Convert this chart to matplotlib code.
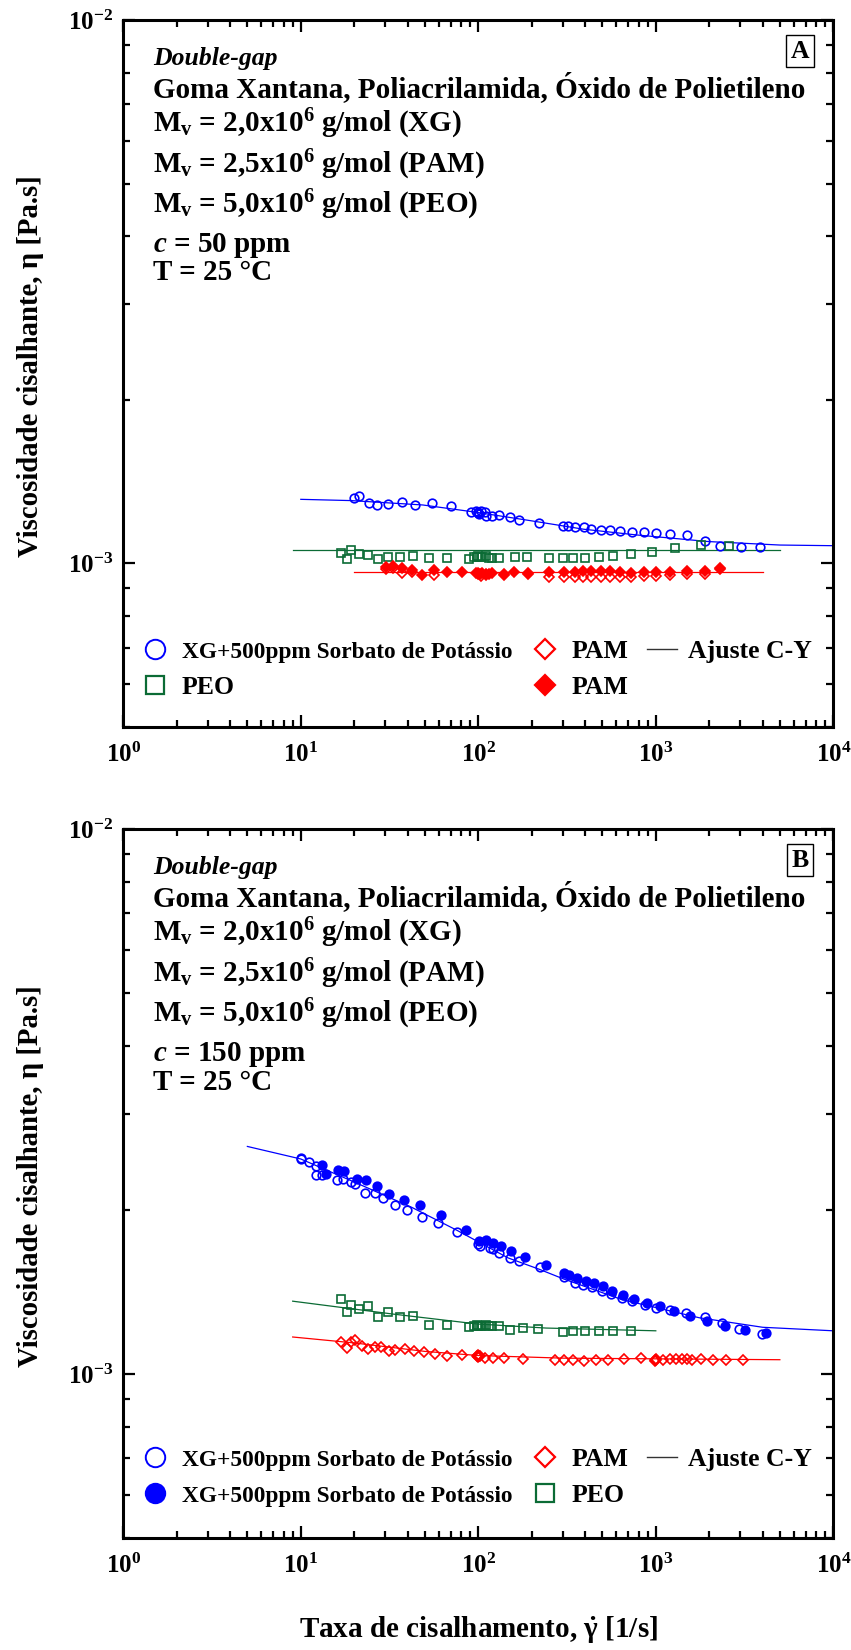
import math
import matplotlib
matplotlib.use('Agg')
import matplotlib.pyplot as plt
from matplotlib.ticker import LogLocator, FuncFormatter, NullFormatter
from matplotlib.lines import Line2D

plt.rcParams['font.family'] = ['Liberation Serif', 'DejaVu Serif']
plt.rcParams['font.weight'] = 'bold'
plt.rcParams['mathtext.fontset'] = 'custom'
plt.rcParams['mathtext.rm'] = 'Liberation Serif:bold'
plt.rcParams['mathtext.it'] = 'Liberation Serif:italic:bold'
plt.rcParams['mathtext.bf'] = 'Liberation Serif:bold'
plt.rcParams['mathtext.default'] = 'regular'

# ---- painel A (c = 50 ppm) ----
a_xg_x = [20.0, 21.2, 24.1, 26.9, 31.1, 37.3, 44.0, 55.2, 70.6, 91.0, 97, 99, 100, 101, 103,
          109.6, 111, 120, 130, 150, 170, 221, 301, 320, 351, 392, 434, 490, 550, 629, 733,
          855, 1000, 1203, 1503, 1893, 2300, 3007, 3882]
a_xg_y = [1.321, 1.331, 1.294, 1.280, 1.286, 1.295, 1.281, 1.290, 1.278, 1.242, 1.250, 1.238,
          1.245, 1.232, 1.248, 1.245, 1.223, 1.221, 1.230, 1.217, 1.202, 1.189, 1.174, 1.170,
          1.169, 1.165, 1.156, 1.153, 1.150, 1.148, 1.143, 1.141, 1.137, 1.135, 1.126, 1.099,
          1.078, 1.072, 1.072]
a_xg_fit_x = [10, 19.3, 48.7, 97.6, 195.6, 392, 785, 1983, 5010, 10000]
a_xg_fit_y = [1.312, 1.305, 1.281, 1.242, 1.199, 1.156, 1.128, 1.097, 1.081, 1.078]

a_peo_x = [16.9, 18.1, 19.2, 21.2, 24.0, 27.2, 31.0, 36.2, 43.1, 52.6, 67, 88.5, 95, 98, 100,
           102, 105, 110, 115, 120, 131.6, 160.6, 188, 251, 298.5, 342, 400, 478, 575, 726,
           950, 1291, 1802, 2590]
a_peo_y = [1.044, 1.018, 1.059, 1.040, 1.037, 1.018, 1.029, 1.029, 1.032, 1.022, 1.022, 1.019,
           1.029, 1.029, 1.030, 1.028, 1.029, 1.030, 1.022, 1.025, 1.022, 1.029, 1.029, 1.022,
           1.022, 1.024, 1.024, 1.029, 1.032, 1.040, 1.051, 1.066, 1.081, 1.075]
a_peo_fit_x = [9, 5000]
a_peo_fit_y = [1.057, 1.057]

a_pam_x = [30.2, 33.1, 37.1, 42.4, 56, 100, 103, 110, 139.8, 190, 251, 302, 350, 391, 433,
           491, 553, 629, 726, 859, 998, 1200, 1499, 1893, 2308]
a_pam_y = [0.975, 0.980, 0.959, 0.965, 0.953, 0.955, 0.950, 0.952, 0.952, 0.955, 0.946, 0.946,
           0.946, 0.946, 0.946, 0.946, 0.946, 0.946, 0.946, 0.948, 0.950, 0.952, 0.955, 0.958,
           0.980]
a_pam2_x = [30.2, 33.1, 37.1, 42.4, 48.1, 56.3, 67, 81, 97, 100, 102, 105, 110, 115, 120,
            139.8, 159.7, 190, 251, 302, 350, 391, 433, 491, 553, 629, 726, 859, 998, 1200,
            1499, 1893, 2308]
a_pam2_y = [0.986, 0.990, 0.982, 0.973, 0.953, 0.972, 0.963, 0.966, 0.959, 0.962, 0.955, 0.960,
            0.958, 0.956, 0.959, 0.957, 0.963, 0.959, 0.966, 0.963, 0.966, 0.967, 0.967, 0.970,
            0.967, 0.963, 0.961, 0.966, 0.966, 0.963, 0.968, 0.968, 0.976]
a_pam_fit_x = [20, 4000]
a_pam_fit_y = [0.963, 0.963]

# ---- painel B (c = 150 ppm) ----
b_xg_x = [10.0, 10.0, 11.1, 12.1, 12.1, 13.2, 16.0, 17.2, 19.2, 20.1, 23.0, 26.1, 28.9, 34.0,
          39.8, 48.1, 59.5, 75.9, 99.7, 102, 117, 120.5, 130, 150, 170.5, 222, 302, 350, 391,
          438, 495, 561, 645, 738, 869, 1008, 1210, 1477, 1893, 2367, 2958, 3985]
b_xg_y = [2.478, 2.490, 2.453, 2.410, 2.318, 2.318, 2.270, 2.280, 2.250, 2.230, 2.150, 2.145,
          2.100, 2.040, 2.000, 1.940, 1.890, 1.820, 1.730, 1.720, 1.700, 1.692, 1.667, 1.630,
          1.614, 1.570, 1.506, 1.470, 1.456, 1.443, 1.418, 1.400, 1.378, 1.359, 1.339, 1.324,
          1.312, 1.294, 1.272, 1.240, 1.210, 1.183]
b_xg2_x = [13.1, 13.8, 16.3, 17.6, 20.6, 23.4, 26.7, 31.5, 37.9, 46.9, 61.5, 85.1, 101, 110.7,
           120.5, 135, 153, 183.6, 241.6, 302, 325, 359, 402, 449, 503, 570, 651, 756, 890,
           1059, 1274, 1553, 1941, 2465, 3190, 4190]
b_xg2_y = [2.415, 2.325, 2.366, 2.360, 2.276, 2.270, 2.213, 2.138, 2.084, 2.040, 1.955, 1.840,
           1.753, 1.760, 1.740, 1.720, 1.680, 1.637, 1.585, 1.533, 1.518, 1.500, 1.484, 1.470,
           1.449, 1.418, 1.394, 1.375, 1.349, 1.331, 1.306, 1.276, 1.249, 1.223, 1.205, 1.189]
b_xg_fit_x = [5, 10, 20, 42.4, 76, 147, 222, 302, 645, 1757, 4000, 10000]
b_xg_fit_y = [2.615, 2.480, 2.250, 2.020, 1.834, 1.633, 1.555, 1.494, 1.369, 1.268, 1.218, 1.200]

b_peo_x = [16.9, 18.1, 19.2, 21.2, 24.0, 27.2, 31.0, 36.2, 43.1, 52.6, 67, 88.5, 95, 98, 100,
           102, 105, 110, 115, 120, 131.6, 150.6, 179, 218, 298.5, 342, 400, 478, 575, 726]
b_peo_y = [1.375, 1.300, 1.340, 1.318, 1.330, 1.272, 1.300, 1.271, 1.277, 1.228, 1.228, 1.218,
           1.225, 1.228, 1.222, 1.225, 1.222, 1.228, 1.222, 1.225, 1.225, 1.206, 1.214, 1.210,
           1.194, 1.197, 1.197, 1.197, 1.197, 1.197]
b_peo_fit_x = [9, 33, 98.7, 241, 1000]
b_peo_fit_y = [1.360, 1.288, 1.235, 1.214, 1.200]

b_pam_x = [16.9, 18.1, 19.2, 20.1, 22.0, 24.0, 26.1, 28.2, 31.2, 34.0, 38.5, 43.5, 49.2, 57.2,
           67, 81, 98, 99, 100, 101, 102, 108.9, 120.5, 139.8, 179, 269, 302, 342, 393, 460,
           539, 661, 826, 985, 993, 1000, 1007, 1096, 1210, 1304, 1405, 1499, 1592, 1802,
           2091, 2486, 3112]
b_pam_y = [1.144, 1.115, 1.146, 1.156, 1.125, 1.113, 1.120, 1.120, 1.103, 1.105, 1.113, 1.103,
           1.097, 1.089, 1.081, 1.084, 1.078, 1.083, 1.075, 1.080, 1.077, 1.070, 1.068, 1.068,
           1.067, 1.059, 1.059, 1.059, 1.057, 1.059, 1.062, 1.064, 1.070, 1.062, 1.058, 1.065,
           1.060, 1.062, 1.064, 1.064, 1.064, 1.064, 1.062, 1.064, 1.062, 1.062, 1.062]
b_pam_fit_x = [9, 20, 50, 100, 300, 1000, 5000]
b_pam_fit_y = [1.169, 1.140, 1.100, 1.081, 1.069, 1.066, 1.062]

info_a = ['Double-gap', 'Goma Xantana, Poliacrilamida, Óxido de Polietileno',
          r'M$_{v}$ = 2,0x10$^{6}$ g/mol (XG)', r'M$_{v}$ = 2,5x10$^{6}$ g/mol (PAM)',
          r'M$_{v}$ = 5,0x10$^{6}$ g/mol (PEO)', r'$\mathit{c}$ = 50 ppm', 'T = 25 °C']
info_b = info_a[:5] + [r'$\mathit{c}$ = 150 ppm', 'T = 25 °C']
info_ypos = [0.9364, 0.8915, 0.8420, 0.7840, 0.7275, 0.6723, 0.6322]

BLUE = '#0000ff'
GREEN = '#0b6b35'
RED = '#ff0000'
mv = 1e-3  # valores lidos em mPa.s -> Pa.s


def scale(v):
    return [k * mv for k in v]


def setup_axes(ax, letter, info):
    ax.set_xscale('log')
    ax.set_yscale('log')
    ax.set_xlim(1, 1e4)
    ax.set_ylim(5e-4, 1e-2)
    ax.xaxis.set_major_locator(LogLocator(base=10, numticks=10))
    ax.yaxis.set_major_locator(LogLocator(base=10, numticks=10))
    ax.xaxis.set_minor_locator(LogLocator(base=10, subs=range(2, 10), numticks=20))
    ax.yaxis.set_minor_locator(LogLocator(base=10, subs=range(2, 10), numticks=20))
    fmt = FuncFormatter(lambda v, p: r'10$^{%d}$' % round(math.log10(v)))
    ax.xaxis.set_major_formatter(fmt)
    ax.yaxis.set_major_formatter(fmt)
    ax.xaxis.set_minor_formatter(NullFormatter())
    ax.yaxis.set_minor_formatter(NullFormatter())
    ax.tick_params(which='both', direction='in', top=True, right=True, width=1.6,
                   labelsize=18)
    ax.tick_params(which='major', length=8.5)
    ax.tick_params(which='minor', length=5)
    ax.tick_params(axis='x', pad=11)
    ax.tick_params(axis='y', pad=7)
    for s in ax.spines.values():
        s.set_linewidth(2.2)
    ax.set_ylabel('Viscosidade cisalhante, η [Pa.s]', fontsize=20.7, fontweight='bold')
    ax.yaxis.set_label_coords(-0.112, 0.51)
    for i, (t, yp) in enumerate(zip(info, info_ypos)):
        if i == 0:
            ax.text(0.042, yp, t, transform=ax.transAxes, fontsize=18.5, style='italic',
                    fontweight='bold', va='baseline', ha='left')
        else:
            ax.text(0.042, yp, t, transform=ax.transAxes, fontsize=21, fontweight='bold',
                    va='baseline', ha='left')
    ax.text(0.953, 0.956, letter, transform=ax.transAxes, fontsize=18.5, fontweight='bold',
            ha='center', va='center',
            bbox=dict(boxstyle='square,pad=0.18', fc='white', ec='black', lw=1.0))


def add_legend(ax, handles, labels, yc):
    leg = ax.legend(handles, labels, ncol=3, loc='center left', bbox_to_anchor=(0.0235, yc),
                    frameon=False, borderpad=0, borderaxespad=0, handlelength=1.17,
                    handletextpad=0.45, columnspacing=0.7, labelspacing=0.5,
                    prop={'size': 18.5, 'weight': 'bold'})
    for txt in leg.get_texts():
        if txt.get_text().startswith('XG'):
            txt.set_fontsize(16.8)
    return leg


fig = plt.figure(figsize=(8.51, 16.5), dpi=100)
ax_a = fig.add_axes([0.1449, 0.55939, 0.8343, 0.42848])
ax_b = fig.add_axes([0.1449, 0.06788, 0.8343, 0.4297])

mk = dict(linestyle='none', markersize=6.2, markeredgewidth=1.2)
mkd = dict(linestyle='none', markersize=5, markeredgewidth=1.2)

# painel A
ax_a.plot(a_xg_fit_x, scale(a_xg_fit_y), color=BLUE, lw=0.9)
ax_a.plot(a_peo_fit_x, scale(a_peo_fit_y), color=GREEN, lw=0.9)
ax_a.plot(a_pam_fit_x, scale(a_pam_fit_y), color=RED, lw=0.9)
ax_a.plot(a_xg_x, scale(a_xg_y), marker='o', mfc='none', mec=BLUE, **mk)
ax_a.plot(a_peo_x, scale(a_peo_y), marker='s', mfc='none', mec=GREEN, **mk)
ax_a.plot(a_pam_x, scale(a_pam_y), marker='D', mfc='none', mec=RED, **mkd)
ax_a.plot(a_pam2_x, scale(a_pam2_y), marker='D', mfc=RED, mec=RED, **mkd)
setup_axes(ax_a, 'A', info_a)

# painel B
ax_b.plot(b_xg_fit_x, scale(b_xg_fit_y), color=BLUE, lw=0.9)
ax_b.plot(b_peo_fit_x, scale(b_peo_fit_y), color=GREEN, lw=0.9)
ax_b.plot(b_pam_fit_x, scale(b_pam_fit_y), color=RED, lw=0.9)
ax_b.plot(b_xg_x, scale(b_xg_y), marker='o', mfc='none', mec=BLUE, **mk)
ax_b.plot(b_xg2_x, scale(b_xg2_y), marker='o', mfc=BLUE, mec=BLUE, **mk)
ax_b.plot(b_peo_x, scale(b_peo_y), marker='s', mfc='none', mec=GREEN, **mk)
ax_b.plot(b_pam_x, scale(b_pam_y), marker='D', mfc='none', mec=RED, **mkd)
setup_axes(ax_b, 'B', info_b)
ax_b.set_xlabel(r'Taxa de cisalhamento, $\dot{\gamma}$ [1/s]', fontsize=21, fontweight='bold')
ax_b.xaxis.set_label_coords(0.5, -0.107)

# legendas
h_circ = Line2D([], [], ls='none', marker='o', ms=14, mfc='none', mec=BLUE, mew=1.4)
h_circf = Line2D([], [], ls='none', marker='o', ms=14, mfc=BLUE, mec=BLUE, mew=1.4)
h_sq = Line2D([], [], ls='none', marker='s', ms=13, mfc='none', mec=GREEN, mew=1.6)
h_dia = Line2D([], [], ls='none', marker='D', ms=10, mfc='none', mec=RED, mew=1.6)
h_diaf = Line2D([], [], ls='none', marker='D', ms=10, mfc=RED, mec=RED, mew=1.6)
h_fit = Line2D([], [], color='#333333', lw=1.0)

add_legend(ax_a, [h_circ, h_sq, h_dia, h_diaf, h_fit],
           ['XG+500ppm Sorbato de Potássio', 'PEO', 'PAM', 'PAM', 'Ajuste C-Y'], 0.0813)
add_legend(ax_b, [h_circ, h_circf, h_dia, h_sq, h_fit],
           ['XG+500ppm Sorbato de Potássio', 'XG+500ppm Sorbato de Potássio', 'PAM', 'PEO',
            'Ajuste C-Y'], 0.0853)

fig.savefig('out.png', dpi=100)
